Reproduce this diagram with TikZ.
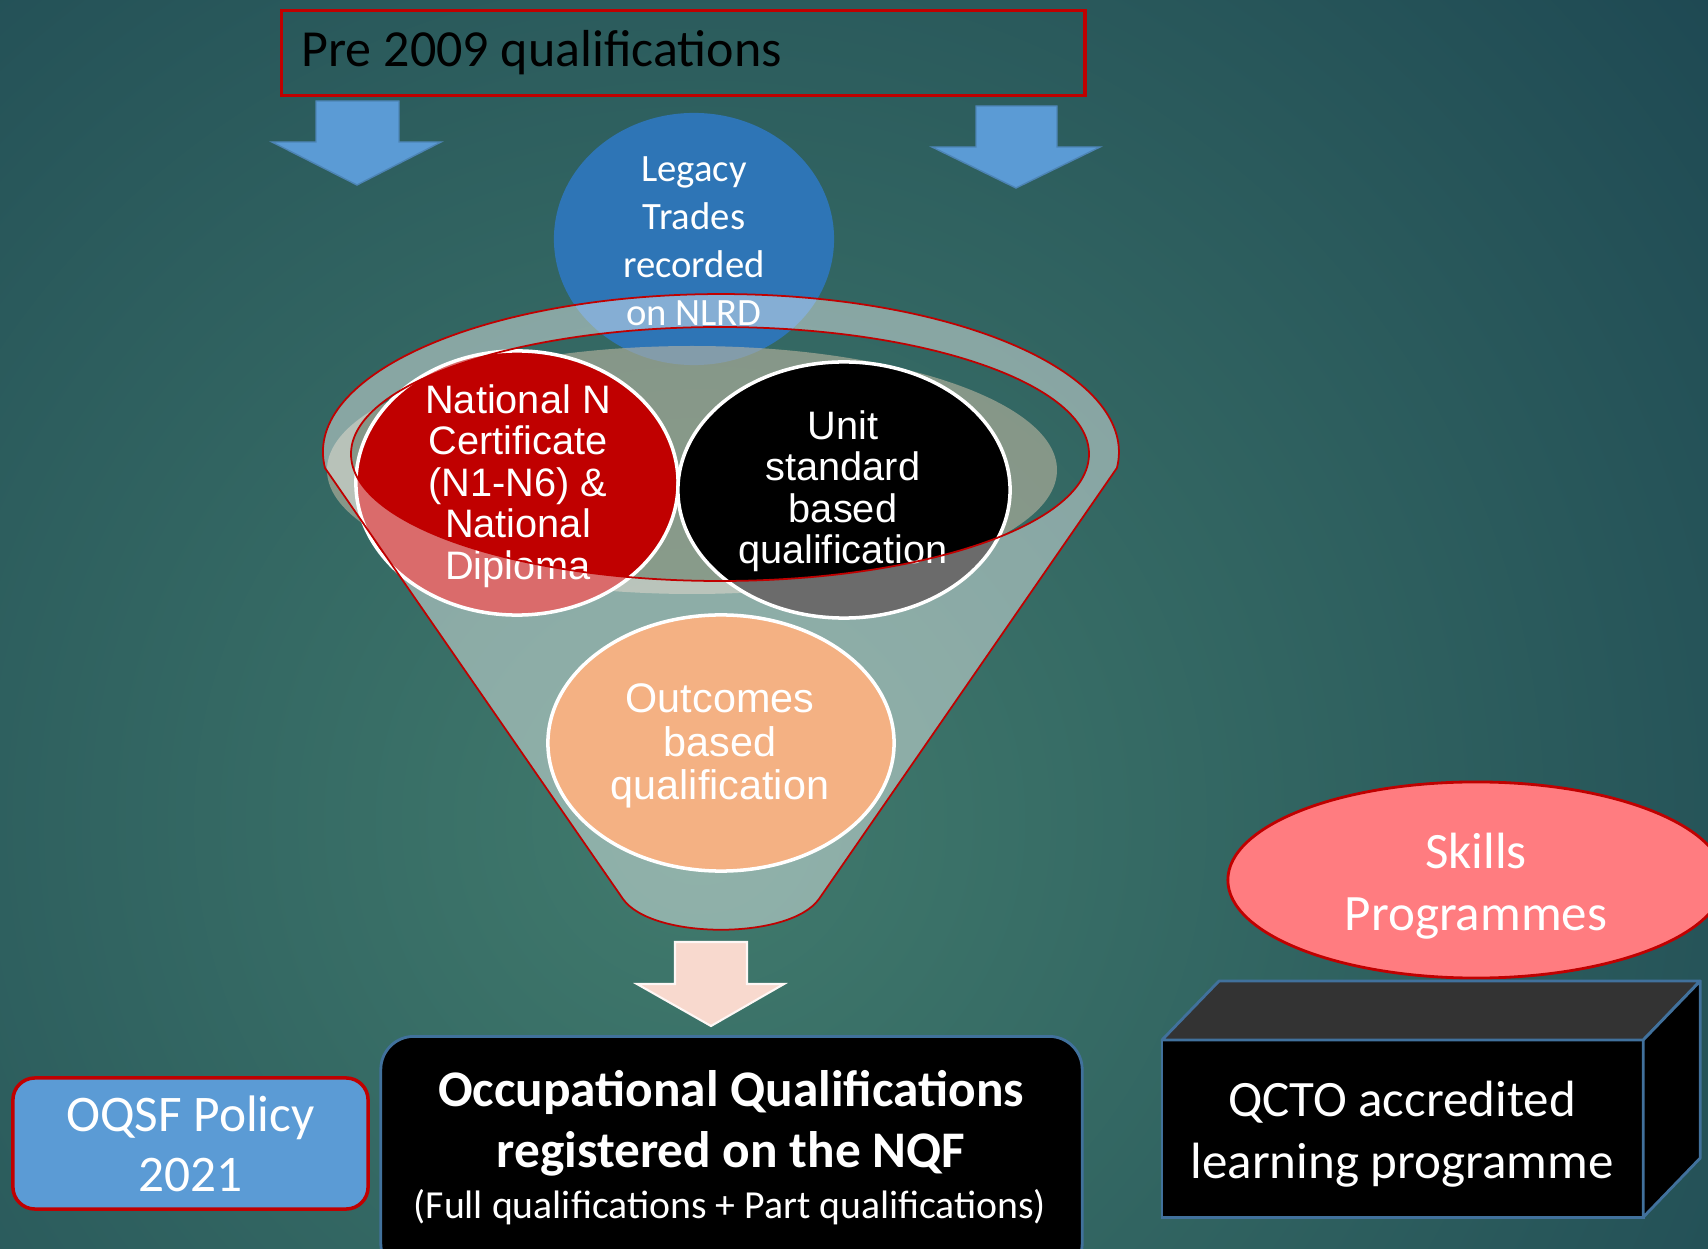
\documentclass[tikz,border=0pt]{standalone}
\usepackage{fontspec}
\setmainfont{Carlito}
\newfontfamily\arialfont{Liberation Sans}
\usepackage{tikz}
\usetikzlibrary{shapes.geometric}

\definecolor{darkred}{HTML}{C00000}
\definecolor{arrowblue}{HTML}{5B9BD5}
\definecolor{legacyblue}{HTML}{2E75B6}
\definecolor{outcomeorange}{HTML}{F4B183}
\definecolor{peach}{HTML}{F8D9CE}
\definecolor{boxedge}{HTML}{41719C}
\definecolor{skillspink}{HTML}{FF7C80}
\definecolor{cubetop}{HTML}{333333}
\definecolor{funnelgrey}{HTML}{BDB7A2}
\definecolor{bginner}{HTML}{417B6D}
\definecolor{bgouter}{HTML}{1D4752}

\begin{document}
\begin{tikzpicture}[
    x=0.01cm,
    y=-0.01cm,
    prebox/.style={draw=darkred, line width=0.9pt, anchor=north west, minimum width=8.03cm,
      minimum height=0.8cm, inner sep=0.2cm, text width=7.63cm, align=flush left,
      font=\fontsize{14.8}{17}\selectfont},
    blockarrow/.style={fill=arrowblue, draw=arrowblue!85!black, line width=0.4pt},
    flowarrow/.style={fill=peach, draw=white!80!peach, line width=0.6pt},
    ovalshape/.style={ellipse, inner sep=0pt, outer sep=0pt},
    legacyoval/.style={ovalshape, fill=legacyblue, minimum width=2.8cm, minimum height=2.52cm},
    qualoval/.style={ovalshape, draw=white, line width=1pt},
    lab/.style={text=white, align=center},
    legacytxt/.style={lab, font=\fontsize{11}{13.6}\selectfont},
    qualtxt/.style={lab, font=\arialfont\fontsize{11.3}{11.8}\selectfont},
    outcometxt/.style={lab, font=\arialfont\fontsize{11.75}{12.4}\selectfont},
    funnelin/.style={fill=funnelgrey, opacity=0.6},
    glass/.style={fill=white, fill opacity=0.42, even odd rule},
    rim/.style={draw=darkred, line width=0.5pt},
    occbox/.style={fill=black, draw=boxedge, line width=0.8pt, rounded corners=0.33cm,
      anchor=north, minimum width=7.01cm, minimum height=2.4cm},
    occhead/.style={lab, font=\bfseries\fontsize{14.6}{17.4}\selectfont},
    occsub/.style={lab, font=\fontsize{11.3}{13.5}\selectfont},
    policybox/.style={lab, fill=arrowblue, draw=darkred, line width=1pt, rounded corners=0.22cm,
      minimum width=3.55cm, minimum height=1.31cm, font=\fontsize{14.6}{17.1}\selectfont},
    skillsoval/.style={ovalshape, fill=skillspink, draw=darkred, line width=0.8pt,
      minimum width=4.96cm, minimum height=1.96cm},
    bigtxt/.style={lab, font=\fontsize{14.5}{17.5}\selectfont},
    cubefront/.style={fill=black, draw=boxedge, line width=0.8pt, anchor=north west,
      outer sep=0pt, minimum width=4.81cm, minimum height=1.77cm},
    cubeface/.style={draw=boxedge, line width=0.8pt, line join=round}
  ]
    % background
    \useasboundingbox (0,0) rectangle (1708,1249);
    \clip (0,0) rectangle (1708,1249);
    \fill[bgouter] (0,0) rectangle (1708,1249);
    \shade[inner color=bginner, outer color=bgouter] (700,820) circle [radius=1350];

    % pre 2009 title and arrows
    \node[prebox] (pre) at (280,9) {Pre 2009 qualifications};
    \draw[blockarrow] (316,101) -- (399,101) -- (399,142) -- (441,142) -- (357,185)
      -- (272,142) -- (316,142) -- cycle;
    \draw[blockarrow] (976,106) -- (1057,106) -- (1057,147) -- (1100,147) -- (1016,188)
      -- (932,147) -- (976,147) -- cycle;

    % legacy trades
    \node[legacyoval] (legacy) at (694,239) {};
    \node[legacytxt] (legacytext) at (694,241) {Legacy\\Trades\\recorded\\on NLRD};

    % funnel, inside
    \fill[funnelin] (692,470) ellipse [x radius=365, y radius=124];

    \node[qualoval, fill=darkred, minimum width=3.22cm, minimum height=2.64cm] (natcert) at (517,483) {};
    \node[qualtxt] (natcerttext) at (518,486) {National N\\Certificate\\(N1-N6) \&\\National\\Diploma};
    \node[qualoval, fill=black, minimum width=3.32cm, minimum height=2.56cm] (unitstd) at (844,490) {};
    \node[qualtxt] (unitstdtext) at (843,491) {Unit\\standard\\based\\qualification};

    % funnel, glass and rim
    \path[glass, rim] (325,468) arc[start angle=174.2, end angle=365.8, x radius=398, y radius=158]
      -- (819,899) .. controls (790,940) and (652,940) .. (623,899) -- cycle
      (720,454) ellipse [x radius=369, y radius=127];

    \node[qualoval, fill=outcomeorange, minimum width=3.46cm, minimum height=2.56cm] (outcomes) at (721,743) {};
    \node[outcometxt] (outcomestext) at (720,746) {Outcomes\\based\\qualification};

    % result
    \draw[flowarrow] (675,942) -- (747,942) -- (747,984) -- (784,984) -- (711,1026)
      -- (637,984) -- (675,984) -- cycle;
    \node[occbox] (occ) at (731.5,1035) {};
    \node[occhead] (occtitle) at (731,1123) {Occupational Qualifications\\registered on the NQF};
    \node[occsub] (occnote) at (730,1207) {(Full qualifications + Part qualifications)};

    \node[policybox] (oqsf) at (190.5,1143.5) {OQSF Policy\\2021};

    % skills programmes on the cube
    \node[skillsoval] (skills) at (1476,880) {};
    \node[bigtxt] (skillstext) at (1476,886) {Skills\\Programmes};
    \node[cubefront] (qcto) at (1162,1040) {};
    \node[bigtxt] (qctotext) at (1402,1134) {QCTO accredited\\learning programme};
    \filldraw[cubeface, fill=cubetop] (qcto.north west) -- ++(57,-59) -- ++(481,0)
      -- (qcto.north east) -- cycle;
    \filldraw[cubeface, fill=black] (qcto.north east) -- ++(57,-59) -- ++(0,177)
      -- (qcto.south east) -- cycle;
  \end{tikzpicture}
\end{document}
